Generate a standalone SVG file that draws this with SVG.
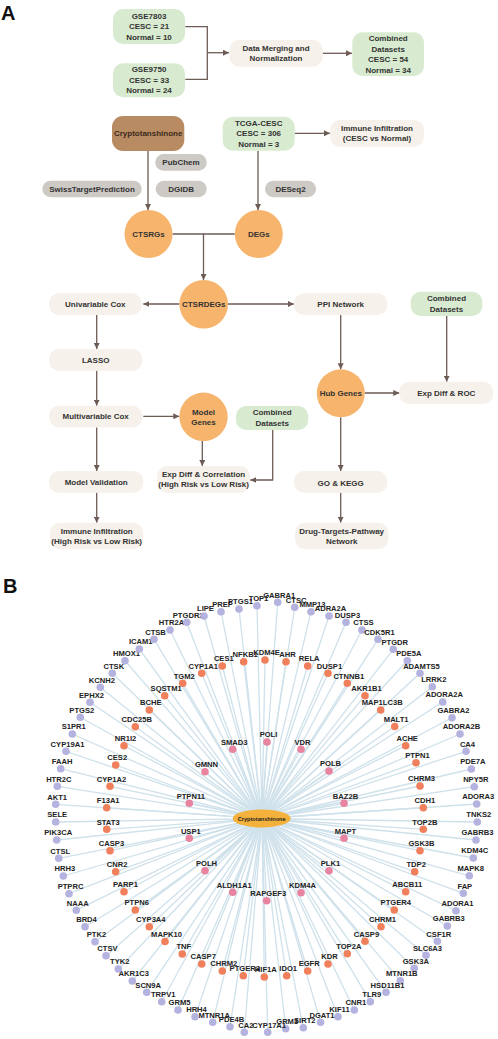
<svg xmlns="http://www.w3.org/2000/svg" width="498" height="1039" viewBox="0 0 498 1039">
<defs>
<style>
.t{font-family:"Liberation Sans",Arial,sans-serif;font-weight:bold;font-size:8px;fill:#333;text-anchor:middle}
.lab{font-family:"Liberation Sans",Arial,sans-serif;font-weight:bold;font-size:20px;fill:#111}
.cream{fill:#f6f1ea}
.green{fill:#d8ebd1}
.gray{fill:#cdc9c5}
.orn{fill:#f6b46c}
.conn{stroke:#6d5b56;stroke-width:1.3;fill:none}
.e{stroke:#cfe1eb;stroke-width:1.3}
.p{fill:#b4b2de}
.o{fill:#f0805c}
.k{fill:#e884a0}
.nl{font-family:"Liberation Sans",Arial,sans-serif;font-weight:bold;font-size:7.6px;fill:#222;text-anchor:middle}
</style>
<marker id="ar" markerUnits="userSpaceOnUse" markerWidth="6" markerHeight="6" refX="6" refY="3" orient="auto">
<path d="M0,0 L6,3 L0,6 z" fill="#6d5b56"/>
</marker>
</defs>
<rect width="498" height="1039" fill="#fff"/>
<text class="lab" x="1" y="20">A</text>
<text class="lab" x="3" y="593">B</text>

<g id="connectors-A">
<polyline class="conn" points="185.3,26.7 207.3,26.7 207.3,79.3 185.3,79.3"/>
<line class="conn" x1="207.3" y1="52.7" x2="229" y2="52.7" marker-end="url(#ar)"/>
<line class="conn" x1="322.7" y1="53.3" x2="352" y2="53.3" marker-end="url(#ar)"/>
<line class="conn" x1="294.7" y1="133.3" x2="330" y2="133.3" marker-end="url(#ar)"/>
<line class="conn" x1="148" y1="151" x2="148" y2="210" marker-end="url(#ar)"/>
<line class="conn" x1="258" y1="150.7" x2="258" y2="210" marker-end="url(#ar)"/>
<line class="conn" x1="172.5" y1="234" x2="234.8" y2="234"/>
<line class="conn" x1="203.5" y1="234" x2="203.5" y2="280" marker-end="url(#ar)"/>
<line class="conn" x1="179.4" y1="304" x2="143.3" y2="304" marker-end="url(#ar)"/>
<line class="conn" x1="228" y1="304" x2="293.8" y2="304" marker-end="url(#ar)"/>
<line class="conn" x1="96.7" y1="315" x2="96.7" y2="349" marker-end="url(#ar)"/>
<line class="conn" x1="96.7" y1="370.7" x2="96.7" y2="405.7" marker-end="url(#ar)"/>
<line class="conn" x1="143.3" y1="416.3" x2="179.3" y2="416.3" marker-end="url(#ar)"/>
<line class="conn" x1="202.3" y1="441" x2="202.3" y2="466" marker-end="url(#ar)"/>
<polyline class="conn" points="272.7,430 272.7,480 250.3,480" marker-end="url(#ar)"/>
<line class="conn" x1="96.7" y1="427.3" x2="96.7" y2="471" marker-end="url(#ar)"/>
<line class="conn" x1="96.7" y1="492.7" x2="96.7" y2="522.7" marker-end="url(#ar)"/>
<line class="conn" x1="340.7" y1="315" x2="340.7" y2="369.3" marker-end="url(#ar)"/>
<line class="conn" x1="364.8" y1="393" x2="399.3" y2="393" marker-end="url(#ar)"/>
<line class="conn" x1="446.7" y1="316" x2="446.7" y2="381.7" marker-end="url(#ar)"/>
<line class="conn" x1="340.7" y1="417.3" x2="340.7" y2="471" marker-end="url(#ar)"/>
<line class="conn" x1="340.7" y1="492.7" x2="340.7" y2="522.7" marker-end="url(#ar)"/>
</g>

<g id="gse7803"><rect class="green" x="113" y="9" width="72" height="35" rx="10"/><text class="t" x="149" y="18.6">GSE7803</text><text class="t" x="149" y="29.2">CESC = 21</text><text class="t" x="149" y="39.7">Normal = 10</text></g>
<g id="gse9750"><rect class="green" x="113" y="63.3" width="72" height="34" rx="10"/><text class="t" x="149" y="72.2">GSE9750</text><text class="t" x="149" y="82.9">CESC = 33</text><text class="t" x="149" y="93.3">Normal = 24</text></g>
<g id="merge"><rect class="cream" x="229.3" y="40" width="93.4" height="26.7" rx="10"/><text class="t" x="276" y="50.6">Data Merging and</text><text class="t" x="276" y="61.2">Normalization</text></g>
<g id="combined1"><rect class="green" x="352.3" y="32.3" width="71.7" height="43.7" rx="10"/><text class="t" x="388.2" y="41.2">Combined</text><text class="t" x="388.2" y="51.6">Datasets</text><text class="t" x="388.2" y="62.2">CESC = 54</text><text class="t" x="388.2" y="72.6">Normal = 34</text></g>
<g id="crypto"><rect x="112" y="116" width="72.3" height="35" rx="11" fill="#b98b62"/><text class="t" x="148.2" y="136.2" style="fill:#3b2b1e">Cryptotanshinone</text></g>
<g id="tcga"><rect class="green" x="222.7" y="116.7" width="72" height="34" rx="10"/><text class="t" x="258.7" y="125.6">TCGA-CESC</text><text class="t" x="258.7" y="136.2">CESC = 306</text><text class="t" x="258.7" y="146.9">Normal = 3</text></g>
<g id="immune1"><rect class="cream" x="330" y="120" width="94" height="26.7" rx="10"/><text class="t" x="377" y="131.2">Immune Infiltration</text><text class="t" x="377" y="141.2">(CESC vs Normal)</text></g>
<g id="pubchem"><rect class="gray" x="155.3" y="154" width="51.4" height="16.7" rx="8.3"/><text class="t" x="181" y="165.2">PubChem</text></g>
<g id="swiss"><rect class="gray" x="42.3" y="180.7" width="99.4" height="16.6" rx="8.3"/><text class="t" x="92" y="191.9">SwissTargetPrediction</text></g>
<g id="dgidb"><rect class="gray" x="155.7" y="180.7" width="51" height="16.6" rx="8.3"/><text class="t" x="181.2" y="191.9">DGIDB</text></g>
<g id="deseq2"><rect class="gray" x="265" y="180.7" width="51" height="16.6" rx="8.3"/><text class="t" x="290.5" y="191.9">DESeq2</text></g>
<g id="ctsrgs"><circle class="orn" cx="148.5" cy="234" r="24"/><text class="t" x="148.5" y="236.8">CTSRGs</text></g>
<g id="degs"><circle class="orn" cx="258.8" cy="234" r="24"/><text class="t" x="258.8" y="236.8">DEGs</text></g>
<g id="ctsrdegs"><circle class="orn" cx="203.7" cy="304.2" r="24.3"/><text class="t" x="203.7" y="307">CTSRDEGs</text></g>
<g id="unicox"><rect class="cream" x="49" y="293.3" width="92.7" height="21.7" rx="10"/><text class="t" x="95.3" y="307">Univariable Cox</text></g>
<g id="ppi"><rect class="cream" x="294" y="293.3" width="93.3" height="21.7" rx="10"/><text class="t" x="340.7" y="307">PPI Network</text></g>
<g id="combined2"><rect class="green" x="410.7" y="291.7" width="71.6" height="24.3" rx="10"/><text class="t" x="446.5" y="301.2">Combined</text><text class="t" x="446.5" y="311.6">Datasets</text></g>
<g id="lasso"><rect class="cream" x="49" y="349" width="93.3" height="21.7" rx="10"/><text class="t" x="95.7" y="362.7">LASSO</text></g>
<g id="multicox"><rect class="cream" x="49" y="405.7" width="93.3" height="21.7" rx="10"/><text class="t" x="95.7" y="419.3">Multivariable Cox</text></g>
<g id="modelgenes"><circle class="orn" cx="203.5" cy="416.8" r="24.2"/><text class="t" x="203.5" y="414.6">Model</text><text class="t" x="203.5" y="425.2">Genes</text></g>
<g id="combined3"><rect class="green" x="236" y="406" width="72.3" height="24" rx="10"/><text class="t" x="272.2" y="415.2">Combined</text><text class="t" x="272.2" y="425.9">Datasets</text></g>
<g id="expcorr"><rect class="cream" x="157.3" y="466" width="92.7" height="26.7" rx="10"/><text class="t" x="203.6" y="476.9">Exp Diff &amp; Correlation</text><text class="t" x="203.6" y="487.2">(High Risk vs Low Risk)</text></g>
<g id="modelval"><rect class="cream" x="49" y="471" width="94.3" height="21.7" rx="10"/><text class="t" x="96.2" y="484.6">Model Validation</text></g>
<g id="immune2"><rect class="cream" x="50" y="522.7" width="93.3" height="26.6" rx="10"/><text class="t" x="96.7" y="533.6">Immune Infiltration</text><text class="t" x="96.7" y="543.6">(High Risk vs Low Risk)</text></g>
<g id="hub"><circle class="orn" cx="340.8" cy="393.3" r="24"/><text class="t" x="340.8" y="396.2">Hub Genes</text></g>
<g id="roc"><rect class="cream" x="399.3" y="381.7" width="94" height="22.3" rx="10"/><text class="t" x="446.3" y="395.6">Exp Diff &amp; ROC</text></g>
<g id="gokegg"><rect class="cream" x="294" y="471" width="93.3" height="21.7" rx="10"/><text class="t" x="340.7" y="485.6">GO &amp; KEGG</text></g>
<g id="drug"><rect class="cream" x="295" y="522.7" width="93.3" height="26.6" rx="10"/><text class="t" x="341.7" y="533.6">Drug-Targets-Pathway</text><text class="t" x="341.7" y="543.6">Network</text></g>

<g id="edges-B">
<line class="e" x1="262" y1="818.5" x2="277.7" y2="602.3"/><line class="e" x1="262" y1="818.5" x2="294.7" y2="607.3"/><line class="e" x1="262" y1="818.5" x2="311" y2="611.7"/><line class="e" x1="262" y1="818.5" x2="329" y2="616"/><line class="e" x1="262" y1="818.5" x2="346" y2="622.3"/><line class="e" x1="262" y1="818.5" x2="362" y2="630"/><line class="e" x1="262" y1="818.5" x2="378" y2="639.3"/><line class="e" x1="262" y1="818.5" x2="393.3" y2="649.3"/><line class="e" x1="262" y1="818.5" x2="407.3" y2="660.7"/><line class="e" x1="262" y1="818.5" x2="420" y2="673.3"/><line class="e" x1="262" y1="818.5" x2="432.3" y2="686.7"/><line class="e" x1="262" y1="818.5" x2="442.7" y2="702"/><line class="e" x1="262" y1="818.5" x2="452" y2="717.7"/><line class="e" x1="262" y1="818.5" x2="460" y2="734"/><line class="e" x1="262" y1="818.5" x2="466" y2="751.3"/><line class="e" x1="262" y1="818.5" x2="471.3" y2="769"/><line class="e" x1="262" y1="818.5" x2="474.3" y2="786.7"/><line class="e" x1="262" y1="818.5" x2="476.7" y2="804"/><line class="e" x1="262" y1="818.5" x2="477.3" y2="822"/><line class="e" x1="262" y1="818.5" x2="476" y2="840"/><line class="e" x1="262" y1="818.5" x2="473.3" y2="858"/><line class="e" x1="262" y1="818.5" x2="469.3" y2="875.8"/><line class="e" x1="262" y1="818.5" x2="463.3" y2="893.3"/><line class="e" x1="262" y1="818.5" x2="456" y2="910.7"/><line class="e" x1="262" y1="818.5" x2="447.3" y2="926"/><line class="e" x1="262" y1="818.5" x2="437.3" y2="941.3"/><line class="e" x1="262" y1="818.5" x2="426" y2="955.3"/><line class="e" x1="262" y1="818.5" x2="414.3" y2="968.3"/><line class="e" x1="262" y1="818.5" x2="400.3" y2="980.7"/><line class="e" x1="262" y1="818.5" x2="386" y2="992.3"/><line class="e" x1="262" y1="818.5" x2="370.3" y2="1001.7"/><line class="e" x1="262" y1="818.5" x2="354.3" y2="1010"/><line class="e" x1="262" y1="818.5" x2="338" y2="1016.7"/><line class="e" x1="262" y1="818.5" x2="320.5" y2="1022.3"/><line class="e" x1="262" y1="818.5" x2="303.3" y2="1027.7"/><line class="e" x1="262" y1="818.5" x2="285.7" y2="1028.7"/><line class="e" x1="262" y1="818.5" x2="267.7" y2="1032.3"/><line class="e" x1="262" y1="818.5" x2="244.3" y2="1032.3"/><line class="e" x1="262" y1="818.5" x2="230" y2="1026.7"/><line class="e" x1="262" y1="818.5" x2="212.7" y2="1022.3"/><line class="e" x1="262" y1="818.5" x2="195" y2="1016.7"/><line class="e" x1="262" y1="818.5" x2="178" y2="1010"/><line class="e" x1="262" y1="818.5" x2="161.7" y2="1001.7"/><line class="e" x1="262" y1="818.5" x2="146.7" y2="992.3"/><line class="e" x1="262" y1="818.5" x2="132.3" y2="981"/><line class="e" x1="262" y1="818.5" x2="118.3" y2="969"/><line class="e" x1="262" y1="818.5" x2="106" y2="955.7"/><line class="e" x1="262" y1="818.5" x2="95" y2="941.7"/><line class="e" x1="262" y1="818.5" x2="85" y2="926.7"/><line class="e" x1="262" y1="818.5" x2="76.3" y2="910.3"/><line class="e" x1="262" y1="818.5" x2="69" y2="893.7"/><line class="e" x1="262" y1="818.5" x2="63.3" y2="876"/><line class="e" x1="262" y1="818.5" x2="58.7" y2="858.3"/><line class="e" x1="262" y1="818.5" x2="56.7" y2="840"/><line class="e" x1="262" y1="818.5" x2="55.7" y2="822"/><line class="e" x1="262" y1="818.5" x2="55.7" y2="804.3"/><line class="e" x1="262" y1="818.5" x2="57.3" y2="786.3"/><line class="e" x1="262" y1="818.5" x2="60.7" y2="768.7"/><line class="e" x1="262" y1="818.5" x2="66" y2="751.3"/><line class="e" x1="262" y1="818.5" x2="72.3" y2="734"/><line class="e" x1="262" y1="818.5" x2="80.3" y2="717.3"/><line class="e" x1="262" y1="818.5" x2="90" y2="702.3"/><line class="e" x1="262" y1="818.5" x2="100.3" y2="687.3"/><line class="e" x1="262" y1="818.5" x2="112.3" y2="673.3"/><line class="e" x1="262" y1="818.5" x2="125" y2="660.7"/><line class="e" x1="262" y1="818.5" x2="139.3" y2="649"/><line class="e" x1="262" y1="818.5" x2="154" y2="639.3"/><line class="e" x1="262" y1="818.5" x2="170" y2="630"/><line class="e" x1="262" y1="818.5" x2="186.7" y2="622.3"/><line class="e" x1="262" y1="818.5" x2="204" y2="616"/><line class="e" x1="262" y1="818.5" x2="221" y2="611.7"/><line class="e" x1="262" y1="818.5" x2="239" y2="609"/><line class="e" x1="262" y1="818.5" x2="257" y2="605.7"/>
</g>

<g id="outer-ring">
<g id="n-GABRA1"><circle class="p" cx="277.7" cy="602.3" r="3.8"/><text class="nl" x="279.2" y="597.5">GABRA1</text></g>
<g id="n-CTSC"><circle class="p" cx="294.7" cy="607.3" r="3.8"/><text class="nl" x="296.2" y="602.5">CTSC</text></g>
<g id="n-MMP13"><circle class="p" cx="311" cy="611.7" r="3.8"/><text class="nl" x="312.5" y="606.9">MMP13</text></g>
<g id="n-ADRA2A"><circle class="p" cx="329" cy="616" r="3.8"/><text class="nl" x="330.5" y="611.2">ADRA2A</text></g>
<g id="n-DUSP3"><circle class="p" cx="346" cy="622.3" r="3.8"/><text class="nl" x="347.5" y="617.5">DUSP3</text></g>
<g id="n-CTSS"><circle class="p" cx="362" cy="630" r="3.8"/><text class="nl" x="363.5" y="625.2">CTSS</text></g>
<g id="n-CDK5R1"><circle class="p" cx="378" cy="639.3" r="3.8"/><text class="nl" x="379.5" y="634.5">CDK5R1</text></g>
<g id="n-PTGDR"><circle class="p" cx="393.3" cy="649.3" r="3.8"/><text class="nl" x="394.8" y="644.5">PTGDR</text></g>
<g id="n-PDE5A"><circle class="p" cx="407.3" cy="660.7" r="3.8"/><text class="nl" x="408.8" y="655.9">PDE5A</text></g>
<g id="n-ADAMTS5"><circle class="p" cx="420" cy="673.3" r="3.8"/><text class="nl" x="421.5" y="668.5">ADAMTS5</text></g>
<g id="n-LRRK2"><circle class="p" cx="432.3" cy="686.7" r="3.8"/><text class="nl" x="433.8" y="681.9">LRRK2</text></g>
<g id="n-ADORA2A"><circle class="p" cx="442.7" cy="702" r="3.8"/><text class="nl" x="444.2" y="697.2">ADORA2A</text></g>
<g id="n-GABRA2"><circle class="p" cx="452" cy="717.7" r="3.8"/><text class="nl" x="453.5" y="712.9">GABRA2</text></g>
<g id="n-ADORA2B"><circle class="p" cx="460" cy="734" r="3.8"/><text class="nl" x="461.5" y="729.2">ADORA2B</text></g>
<g id="n-CA4"><circle class="p" cx="466" cy="751.3" r="3.8"/><text class="nl" x="467.5" y="746.5">CA4</text></g>
<g id="n-PDE7A"><circle class="p" cx="471.3" cy="769" r="3.8"/><text class="nl" x="472.8" y="764.2">PDE7A</text></g>
<g id="n-NPY5R"><circle class="p" cx="474.3" cy="786.7" r="3.8"/><text class="nl" x="475.8" y="781.9">NPY5R</text></g>
<g id="n-ADORA3"><circle class="p" cx="476.7" cy="804" r="3.8"/><text class="nl" x="478.2" y="799.2">ADORA3</text></g>
<g id="n-TNKS2"><circle class="p" cx="477.3" cy="822" r="3.8"/><text class="nl" x="478.8" y="817.2">TNKS2</text></g>
<g id="n-GABRB3"><circle class="p" cx="476" cy="840" r="3.8"/><text class="nl" x="477.5" y="835.2">GABRB3</text></g>
<g id="n-KDM4C"><circle class="p" cx="473.3" cy="858" r="3.8"/><text class="nl" x="474.8" y="853.2">KDM4C</text></g>
<g id="n-MAPK8"><circle class="p" cx="469.3" cy="875.8" r="3.8"/><text class="nl" x="470.8" y="871">MAPK8</text></g>
<g id="n-FAP"><circle class="p" cx="463.3" cy="893.3" r="3.8"/><text class="nl" x="464.8" y="888.5">FAP</text></g>
<g id="n-ADORA1"><circle class="p" cx="456" cy="910.7" r="3.8"/><text class="nl" x="457.5" y="905.9">ADORA1</text></g>
<g id="n-GABRB3-2"><circle class="p" cx="447.3" cy="926" r="3.8"/><text class="nl" x="448.8" y="921.2">GABRB3</text></g>
<g id="n-CSF1R"><circle class="p" cx="437.3" cy="941.3" r="3.8"/><text class="nl" x="438.8" y="936.5">CSF1R</text></g>
<g id="n-SLC6A3"><circle class="p" cx="426" cy="955.3" r="3.8"/><text class="nl" x="427.5" y="950.5">SLC6A3</text></g>
<g id="n-GSK3A"><circle class="p" cx="414.3" cy="968.3" r="3.8"/><text class="nl" x="415.8" y="963.5">GSK3A</text></g>
<g id="n-MTNR1B"><circle class="p" cx="400.3" cy="980.7" r="3.8"/><text class="nl" x="401.8" y="975.9">MTNR1B</text></g>
<g id="n-HSD11B1"><circle class="p" cx="386" cy="992.3" r="3.8"/><text class="nl" x="387.5" y="987.5">HSD11B1</text></g>
<g id="n-TLR9"><circle class="p" cx="370.3" cy="1001.7" r="3.8"/><text class="nl" x="371.8" y="996.9">TLR9</text></g>
<g id="n-CNR1"><circle class="p" cx="354.3" cy="1010" r="3.8"/><text class="nl" x="355.8" y="1005.2">CNR1</text></g>
<g id="n-KIF11"><circle class="p" cx="338" cy="1016.7" r="3.8"/><text class="nl" x="339.5" y="1011.9">KIF11</text></g>
<g id="n-DGAT1"><circle class="p" cx="320.5" cy="1022.3" r="3.8"/><text class="nl" x="322" y="1017.5">DGAT1</text></g>
<g id="n-SIRT2"><circle class="p" cx="303.3" cy="1027.7" r="3.8"/><text class="nl" x="304.8" y="1022.9">SIRT2</text></g>
<g id="n-GRM3"><circle class="p" cx="285.7" cy="1028.7" r="3.8"/><text class="nl" x="287.2" y="1023.9">GRM3</text></g>
<g id="n-CYP17A1"><circle class="p" cx="267.7" cy="1032.3" r="3.8"/><text class="nl" x="269.2" y="1027.5">CYP17A1</text></g>
<g id="n-CA2"><circle class="p" cx="244.3" cy="1032.3" r="3.8"/><text class="nl" x="245.8" y="1027.5">CA2</text></g>
<g id="n-PDE4B"><circle class="p" cx="230" cy="1026.7" r="3.8"/><text class="nl" x="231.5" y="1021.9">PDE4B</text></g>
<g id="n-MTNR1A"><circle class="p" cx="212.7" cy="1022.3" r="3.8"/><text class="nl" x="214.2" y="1017.5">MTNR1A</text></g>
<g id="n-HRH4"><circle class="p" cx="195" cy="1016.7" r="3.8"/><text class="nl" x="196.5" y="1011.9">HRH4</text></g>
<g id="n-GRM5"><circle class="p" cx="178" cy="1010" r="3.8"/><text class="nl" x="179.5" y="1005.2">GRM5</text></g>
<g id="n-TRPV1"><circle class="p" cx="161.7" cy="1001.7" r="3.8"/><text class="nl" x="163.2" y="996.9">TRPV1</text></g>
<g id="n-SCN9A"><circle class="p" cx="146.7" cy="992.3" r="3.8"/><text class="nl" x="148.2" y="987.5">SCN9A</text></g>
<g id="n-AKR1C3"><circle class="p" cx="132.3" cy="981" r="3.8"/><text class="nl" x="133.8" y="976.2">AKR1C3</text></g>
<g id="n-TYK2"><circle class="p" cx="118.3" cy="969" r="3.8"/><text class="nl" x="119.8" y="964.2">TYK2</text></g>
<g id="n-CTSV"><circle class="p" cx="106" cy="955.7" r="3.8"/><text class="nl" x="107.5" y="950.9">CTSV</text></g>
<g id="n-PTK2"><circle class="p" cx="95" cy="941.7" r="3.8"/><text class="nl" x="96.5" y="936.9">PTK2</text></g>
<g id="n-BRD4"><circle class="p" cx="85" cy="926.7" r="3.8"/><text class="nl" x="86.5" y="921.9">BRD4</text></g>
<g id="n-NAAA"><circle class="p" cx="76.3" cy="910.3" r="3.8"/><text class="nl" x="77.8" y="905.5">NAAA</text></g>
<g id="n-PTPRC"><circle class="p" cx="69" cy="893.7" r="3.8"/><text class="nl" x="70.5" y="888.9">PTPRC</text></g>
<g id="n-HRH3"><circle class="p" cx="63.3" cy="876" r="3.8"/><text class="nl" x="64.8" y="871.2">HRH3</text></g>
<g id="n-CTSL"><circle class="p" cx="58.7" cy="858.3" r="3.8"/><text class="nl" x="60.2" y="853.5">CTSL</text></g>
<g id="n-PIK3CA"><circle class="p" cx="56.7" cy="840" r="3.8"/><text class="nl" x="58.2" y="835.2">PIK3CA</text></g>
<g id="n-SELE"><circle class="p" cx="55.7" cy="822" r="3.8"/><text class="nl" x="57.2" y="817.2">SELE</text></g>
<g id="n-AKT1"><circle class="p" cx="55.7" cy="804.3" r="3.8"/><text class="nl" x="57.2" y="799.5">AKT1</text></g>
<g id="n-HTR2C"><circle class="p" cx="57.3" cy="786.3" r="3.8"/><text class="nl" x="58.8" y="781.5">HTR2C</text></g>
<g id="n-FAAH"><circle class="p" cx="60.7" cy="768.7" r="3.8"/><text class="nl" x="62.2" y="763.9">FAAH</text></g>
<g id="n-CYP19A1"><circle class="p" cx="66" cy="751.3" r="3.8"/><text class="nl" x="67.5" y="746.5">CYP19A1</text></g>
<g id="n-S1PR1"><circle class="p" cx="72.3" cy="734" r="3.8"/><text class="nl" x="73.8" y="729.2">S1PR1</text></g>
<g id="n-PTGS2"><circle class="p" cx="80.3" cy="717.3" r="3.8"/><text class="nl" x="81.8" y="712.5">PTGS2</text></g>
<g id="n-EPHX2"><circle class="p" cx="90" cy="702.3" r="3.8"/><text class="nl" x="91.5" y="697.5">EPHX2</text></g>
<g id="n-KCNH2"><circle class="p" cx="100.3" cy="687.3" r="3.8"/><text class="nl" x="101.8" y="682.5">KCNH2</text></g>
<g id="n-CTSK"><circle class="p" cx="112.3" cy="673.3" r="3.8"/><text class="nl" x="113.8" y="668.5">CTSK</text></g>
<g id="n-HMOX1"><circle class="p" cx="125" cy="660.7" r="3.8"/><text class="nl" x="126.5" y="655.9">HMOX1</text></g>
<g id="n-ICAM1"><circle class="p" cx="139.3" cy="649" r="3.8"/><text class="nl" x="140.8" y="644.2">ICAM1</text></g>
<g id="n-CTSB"><circle class="p" cx="154" cy="639.3" r="3.8"/><text class="nl" x="155.5" y="634.5">CTSB</text></g>
<g id="n-HTR2A"><circle class="p" cx="170" cy="630" r="3.8"/><text class="nl" x="171.5" y="625.2">HTR2A</text></g>
<g id="n-PTGDR2"><circle class="p" cx="186.7" cy="622.3" r="3.8"/><text class="nl" x="188.2" y="617.5">PTGDR2</text></g>
<g id="n-LIPE"><circle class="p" cx="204" cy="616" r="3.8"/><text class="nl" x="205.5" y="611.2">LIPE</text></g>
<g id="n-PREP"><circle class="p" cx="221" cy="611.7" r="3.8"/><text class="nl" x="222.5" y="606.9">PREP</text></g>
<g id="n-PTGS1"><circle class="p" cx="239" cy="609" r="3.8"/><text class="nl" x="240.5" y="604.2">PTGS1</text></g>
<g id="n-TOP1"><circle class="p" cx="257" cy="605.7" r="3.8"/><text class="nl" x="258.5" y="600.9">TOP1</text></g>
</g>

<g id="edges-B2">
<line class="e" x1="262" y1="818.5" x2="265" y2="660"/><line class="e" x1="262" y1="818.5" x2="286" y2="661.7"/><line class="e" x1="262" y1="818.5" x2="307.7" y2="666"/><line class="e" x1="262" y1="818.5" x2="328" y2="673.3"/><line class="e" x1="262" y1="818.5" x2="347.3" y2="683.3"/><line class="e" x1="262" y1="818.5" x2="365" y2="695.7"/><line class="e" x1="262" y1="818.5" x2="380.7" y2="710"/><line class="e" x1="262" y1="818.5" x2="394.7" y2="726.5"/><line class="e" x1="262" y1="818.5" x2="405.7" y2="745.7"/><line class="e" x1="262" y1="818.5" x2="416" y2="762.7"/><line class="e" x1="262" y1="818.5" x2="420" y2="786"/><line class="e" x1="262" y1="818.5" x2="423.3" y2="807.7"/><line class="e" x1="262" y1="818.5" x2="423.3" y2="829.3"/><line class="e" x1="262" y1="818.5" x2="420" y2="850.7"/><line class="e" x1="262" y1="818.5" x2="414.7" y2="871.7"/><line class="e" x1="262" y1="818.5" x2="405.7" y2="891.7"/><line class="e" x1="262" y1="818.5" x2="394.3" y2="910"/><line class="e" x1="262" y1="818.5" x2="381" y2="926.7"/><line class="e" x1="262" y1="818.5" x2="365" y2="941.3"/><line class="e" x1="262" y1="818.5" x2="347.3" y2="953.7"/><line class="e" x1="262" y1="818.5" x2="328" y2="964"/><line class="e" x1="262" y1="818.5" x2="307.7" y2="971"/><line class="e" x1="262" y1="818.5" x2="286.7" y2="975.7"/><line class="e" x1="262" y1="818.5" x2="264.3" y2="977"/><line class="e" x1="262" y1="818.5" x2="243.3" y2="975.7"/><line class="e" x1="262" y1="818.5" x2="222.3" y2="971"/><line class="e" x1="262" y1="818.5" x2="201.7" y2="964"/><line class="e" x1="262" y1="818.5" x2="182.3" y2="954"/><line class="e" x1="262" y1="818.5" x2="165" y2="941.5"/><line class="e" x1="262" y1="818.5" x2="149.3" y2="926.7"/><line class="e" x1="262" y1="818.5" x2="135.3" y2="910"/><line class="e" x1="262" y1="818.5" x2="124" y2="891.7"/><line class="e" x1="262" y1="818.5" x2="115.7" y2="871.7"/><line class="e" x1="262" y1="818.5" x2="110" y2="850.7"/><line class="e" x1="262" y1="818.5" x2="106.7" y2="829.3"/><line class="e" x1="262" y1="818.5" x2="106.7" y2="807.7"/><line class="e" x1="262" y1="818.5" x2="110" y2="786.3"/><line class="e" x1="262" y1="818.5" x2="115.7" y2="765"/><line class="e" x1="262" y1="818.5" x2="124" y2="745.7"/><line class="e" x1="262" y1="818.5" x2="135.3" y2="726.7"/><line class="e" x1="262" y1="818.5" x2="149.3" y2="710"/><line class="e" x1="262" y1="818.5" x2="164.7" y2="695.7"/><line class="e" x1="262" y1="818.5" x2="182.7" y2="683.3"/><line class="e" x1="262" y1="818.5" x2="201.7" y2="673.3"/><line class="e" x1="262" y1="818.5" x2="222.3" y2="666"/><line class="e" x1="262" y1="818.5" x2="243.7" y2="661.7"/>
<line class="e" x1="262" y1="818.5" x2="267" y2="742"/><line class="e" x1="262" y1="818.5" x2="301" y2="749.3"/><line class="e" x1="262" y1="818.5" x2="329" y2="771"/><line class="e" x1="262" y1="818.5" x2="344" y2="803.3"/><line class="e" x1="262" y1="818.5" x2="344" y2="838.3"/><line class="e" x1="262" y1="818.5" x2="329" y2="870.7"/><line class="e" x1="262" y1="818.5" x2="301" y2="892.7"/><line class="e" x1="262" y1="818.5" x2="266.7" y2="900.7"/><line class="e" x1="262" y1="818.5" x2="232.7" y2="892.3"/><line class="e" x1="262" y1="818.5" x2="205" y2="870.7"/><line class="e" x1="262" y1="818.5" x2="189.3" y2="838.3"/><line class="e" x1="262" y1="818.5" x2="189.3" y2="803.3"/><line class="e" x1="262" y1="818.5" x2="205" y2="771.7"/><line class="e" x1="262" y1="818.5" x2="232.7" y2="749.3"/>
</g>

<g id="middle-ring">
<g id="n-KDM4E"><circle class="o" cx="265" cy="660" r="3.8"/><text class="nl" x="266.5" y="655.2">KDM4E</text></g>
<g id="n-AHR"><circle class="o" cx="286" cy="661.7" r="3.8"/><text class="nl" x="287.5" y="656.9">AHR</text></g>
<g id="n-RELA"><circle class="o" cx="307.7" cy="666" r="3.8"/><text class="nl" x="309.2" y="661.2">RELA</text></g>
<g id="n-DUSP1"><circle class="o" cx="328" cy="673.3" r="3.8"/><text class="nl" x="329.5" y="668.5">DUSP1</text></g>
<g id="n-CTNNB1"><circle class="o" cx="347.3" cy="683.3" r="3.8"/><text class="nl" x="348.8" y="678.5">CTNNB1</text></g>
<g id="n-AKR1B1"><circle class="o" cx="365" cy="695.7" r="3.8"/><text class="nl" x="366.5" y="690.9">AKR1B1</text></g>
<g id="n-MAP1LC3B"><circle class="o" cx="380.7" cy="710" r="3.8"/><text class="nl" x="382.2" y="705.2">MAP1LC3B</text></g>
<g id="n-MALT1"><circle class="o" cx="394.7" cy="726.5" r="3.8"/><text class="nl" x="396.2" y="721.7">MALT1</text></g>
<g id="n-ACHE"><circle class="o" cx="405.7" cy="745.7" r="3.8"/><text class="nl" x="407.2" y="740.9">ACHE</text></g>
<g id="n-PTPN1"><circle class="o" cx="416" cy="762.7" r="3.8"/><text class="nl" x="417.5" y="757.9">PTPN1</text></g>
<g id="n-CHRM3"><circle class="o" cx="420" cy="786" r="3.8"/><text class="nl" x="421.5" y="781.2">CHRM3</text></g>
<g id="n-CDH1"><circle class="o" cx="423.3" cy="807.7" r="3.8"/><text class="nl" x="424.8" y="802.9">CDH1</text></g>
<g id="n-TOP2B"><circle class="o" cx="423.3" cy="829.3" r="3.8"/><text class="nl" x="424.8" y="824.5">TOP2B</text></g>
<g id="n-GSK3B"><circle class="o" cx="420" cy="850.7" r="3.8"/><text class="nl" x="421.5" y="845.9">GSK3B</text></g>
<g id="n-TDP2"><circle class="o" cx="414.7" cy="871.7" r="3.8"/><text class="nl" x="416.2" y="866.9">TDP2</text></g>
<g id="n-ABCB11"><circle class="o" cx="405.7" cy="891.7" r="3.8"/><text class="nl" x="407.2" y="886.9">ABCB11</text></g>
<g id="n-PTGER4"><circle class="o" cx="394.3" cy="910" r="3.8"/><text class="nl" x="395.8" y="905.2">PTGER4</text></g>
<g id="n-CHRM1"><circle class="o" cx="381" cy="926.7" r="3.8"/><text class="nl" x="382.5" y="921.9">CHRM1</text></g>
<g id="n-CASP9"><circle class="o" cx="365" cy="941.3" r="3.8"/><text class="nl" x="366.5" y="936.5">CASP9</text></g>
<g id="n-TOP2A"><circle class="o" cx="347.3" cy="953.7" r="3.8"/><text class="nl" x="348.8" y="948.9">TOP2A</text></g>
<g id="n-KDR"><circle class="o" cx="328" cy="964" r="3.8"/><text class="nl" x="329.5" y="959.2">KDR</text></g>
<g id="n-EGFR"><circle class="o" cx="307.7" cy="971" r="3.8"/><text class="nl" x="309.2" y="966.2">EGFR</text></g>
<g id="n-IDO1"><circle class="o" cx="286.7" cy="975.7" r="3.8"/><text class="nl" x="288.2" y="970.9">IDO1</text></g>
<g id="n-HIF1A"><circle class="o" cx="264.3" cy="977" r="3.8"/><text class="nl" x="265.8" y="972.2">HIF1A</text></g>
<g id="n-PTGER3"><circle class="o" cx="243.3" cy="975.7" r="3.8"/><text class="nl" x="244.8" y="970.9">PTGER3</text></g>
<g id="n-CHRM2"><circle class="o" cx="222.3" cy="971" r="3.8"/><text class="nl" x="223.8" y="966.2">CHRM2</text></g>
<g id="n-CASP7"><circle class="o" cx="201.7" cy="964" r="3.8"/><text class="nl" x="203.2" y="959.2">CASP7</text></g>
<g id="n-TNF"><circle class="o" cx="182.3" cy="954" r="3.8"/><text class="nl" x="183.8" y="949.2">TNF</text></g>
<g id="n-MAPK10"><circle class="o" cx="165" cy="941.5" r="3.8"/><text class="nl" x="166.5" y="936.7">MAPK10</text></g>
<g id="n-CYP3A4"><circle class="o" cx="149.3" cy="926.7" r="3.8"/><text class="nl" x="150.8" y="921.9">CYP3A4</text></g>
<g id="n-PTPN6"><circle class="o" cx="135.3" cy="910" r="3.8"/><text class="nl" x="136.8" y="905.2">PTPN6</text></g>
<g id="n-PARP1"><circle class="o" cx="124" cy="891.7" r="3.8"/><text class="nl" x="125.5" y="886.9">PARP1</text></g>
<g id="n-CNR2"><circle class="o" cx="115.7" cy="871.7" r="3.8"/><text class="nl" x="117.2" y="866.9">CNR2</text></g>
<g id="n-CASP3"><circle class="o" cx="110" cy="850.7" r="3.8"/><text class="nl" x="111.5" y="845.9">CASP3</text></g>
<g id="n-STAT3"><circle class="o" cx="106.7" cy="829.3" r="3.8"/><text class="nl" x="108.2" y="824.5">STAT3</text></g>
<g id="n-F13A1"><circle class="o" cx="106.7" cy="807.7" r="3.8"/><text class="nl" x="108.2" y="802.9">F13A1</text></g>
<g id="n-CYP1A2"><circle class="o" cx="110" cy="786.3" r="3.8"/><text class="nl" x="111.5" y="781.5">CYP1A2</text></g>
<g id="n-CES2"><circle class="o" cx="115.7" cy="765" r="3.8"/><text class="nl" x="117.2" y="760.2">CES2</text></g>
<g id="n-NR1I2"><circle class="o" cx="124" cy="745.7" r="3.8"/><text class="nl" x="125.5" y="740.9">NR1I2</text></g>
<g id="n-CDC25B"><circle class="o" cx="135.3" cy="726.7" r="3.8"/><text class="nl" x="136.8" y="721.9">CDC25B</text></g>
<g id="n-BCHE"><circle class="o" cx="149.3" cy="710" r="3.8"/><text class="nl" x="150.8" y="705.2">BCHE</text></g>
<g id="n-SQSTM1"><circle class="o" cx="164.7" cy="695.7" r="3.8"/><text class="nl" x="166.2" y="690.9">SQSTM1</text></g>
<g id="n-TGM2"><circle class="o" cx="182.7" cy="683.3" r="3.8"/><text class="nl" x="184.2" y="678.5">TGM2</text></g>
<g id="n-CYP1A1"><circle class="o" cx="201.7" cy="673.3" r="3.8"/><text class="nl" x="203.2" y="668.5">CYP1A1</text></g>
<g id="n-CES1"><circle class="o" cx="222.3" cy="666" r="3.8"/><text class="nl" x="223.8" y="661.2">CES1</text></g>
<g id="n-NFKB1"><circle class="o" cx="243.7" cy="661.7" r="3.8"/><text class="nl" x="245.2" y="656.9">NFKB1</text></g>
</g>

<g id="inner-ring">
<g id="n-POLI"><circle class="k" cx="267" cy="742" r="3.8"/><text class="nl" x="268.5" y="737.2">POLI</text></g>
<g id="n-VDR"><circle class="k" cx="301" cy="749.3" r="3.8"/><text class="nl" x="302.5" y="744.5">VDR</text></g>
<g id="n-POLB"><circle class="k" cx="329" cy="771" r="3.8"/><text class="nl" x="330.5" y="766.2">POLB</text></g>
<g id="n-BAZ2B"><circle class="k" cx="344" cy="803.3" r="3.8"/><text class="nl" x="345.5" y="798.5">BAZ2B</text></g>
<g id="n-MAPT"><circle class="k" cx="344" cy="838.3" r="3.8"/><text class="nl" x="345.5" y="833.5">MAPT</text></g>
<g id="n-PLK1"><circle class="k" cx="329" cy="870.7" r="3.8"/><text class="nl" x="330.5" y="865.9">PLK1</text></g>
<g id="n-KDM4A"><circle class="k" cx="301" cy="892.7" r="3.8"/><text class="nl" x="302.5" y="887.9">KDM4A</text></g>
<g id="n-RAPGEF3"><circle class="k" cx="266.7" cy="900.7" r="3.8"/><text class="nl" x="268.2" y="895.9">RAPGEF3</text></g>
<g id="n-ALDH1A1"><circle class="k" cx="232.7" cy="892.3" r="3.8"/><text class="nl" x="234.2" y="887.5">ALDH1A1</text></g>
<g id="n-POLH"><circle class="k" cx="205" cy="870.7" r="3.8"/><text class="nl" x="206.5" y="865.9">POLH</text></g>
<g id="n-USP1"><circle class="k" cx="189.3" cy="838.3" r="3.8"/><text class="nl" x="190.8" y="833.5">USP1</text></g>
<g id="n-PTPN11"><circle class="k" cx="189.3" cy="803.3" r="3.8"/><text class="nl" x="190.8" y="798.5">PTPN11</text></g>
<g id="n-GMNN"><circle class="k" cx="205" cy="771.7" r="3.8"/><text class="nl" x="206.5" y="766.9">GMNN</text></g>
<g id="n-SMAD3"><circle class="k" cx="232.7" cy="749.3" r="3.8"/><text class="nl" x="234.2" y="744.5">SMAD3</text></g>
</g>

<g id="n-Cryptotanshinone"><ellipse cx="261.7" cy="818.5" rx="29" ry="9" fill="#f4b13b"/><text x="261.7" y="820.5" style="font-family:'Liberation Sans',Arial,sans-serif;font-weight:bold;font-size:5.6px;fill:#222;text-anchor:middle">Cryptotanshinone</text></g>
</svg>
